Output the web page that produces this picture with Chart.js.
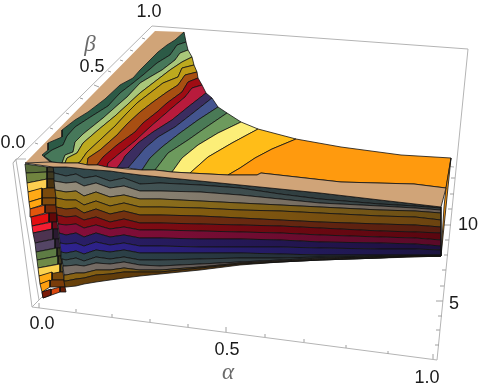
<!DOCTYPE html>
<html>
<head>
<meta charset="utf-8">
<title>surface</title>
<script src="https://cdn.jsdelivr.net/npm/chart.js@4"></script>
<style>
  html, body { margin: 0; padding: 0; background: #fff; }
  canvas { display: block; }
</style>
</head>
<body>
<canvas id="surface" width="482" height="391"></canvas>
<script>

// frame of the 3D box
const boxLines = [
  [[13, 163], [152, 26], [468, 49], [437, 360], [32, 307], [13, 163]],
  [[13, 163], [16, 159], [26, 159]],
  [[16, 160], [39, 300]],
  [[32, 307], [42, 297]],
  [[444, 166], [454, 167]]
];
const alphaTicks = [[76, 312], [112, 317], [150, 322], [188, 327], [265, 337], [304, 342], [346, 348], [388, 354]];
const alphaMajor = [[39, 308], [226, 332], [433, 359]];
const betaTicks = [[35, 143], [50, 128], [66, 113], [80, 98], [108, 71], [120, 60], [130, 50], [142, 38]];
const betaMajor = [[94, 85]];
const zTicks = [[446, 270], [448, 255], [449, 240], [452, 209], [454, 194], [455, 178], [444, 286], [442, 316], [440, 330], [439, 345]];
const zMajor = [[451, 225], [443, 301]];

// top surface: contour lines from the back curve down to the front edge
const contours = [
  [[184,32],[175,40],[167,45],[158,52],[152,58],[140,70],[133,78],[120,85],[105,99],[88,112],[75,120],[62,130],[62,137],[48,143],[48,150],[42,155],[50,162]],
  [[186,42],[177,45],[170,55],[157,63],[143,75],[133,83],[120,93],[108,106],[92,116],[75,127],[67,136],[63,145],[52,150],[44,156],[52,162]],
  [[188,50],[180,53],[175,60],[162,70],[150,77],[140,83],[127,97],[120,103],[103,118],[83,134],[75,142],[73,152],[65,155],[62,163]],
  [[192,57],[182,62],[170,70],[153,83],[140,93],[127,105],[115,116],[98,130],[83,143],[77,153],[67,158],[65,163]],
  [[194,65],[182,68],[178,77],[163,83],[150,93],[137,103],[127,113],[115,126],[100,140],[87,152],[80,162],[78,163]],
  [[197,72],[185,75],[178,85],[167,92],[153,102],[140,112],[127,124],[117,135],[100,150],[88,158],[87,165]],
  [[198,78],[188,82],[182,92],[167,103],[157,112],[143,123],[135,132],[117,145],[103,157],[97,165]],
  [[202,85],[192,88],[185,97],[173,107],[165,114],[150,127],[135,141],[120,153],[108,163],[107,167]],
  [[206,93],[188,107],[172,120],[153,132],[138,143],[125,156],[123,160],[117,168]],
  [[212,98],[193,113],[175,127],[158,137],[145,148],[128,168]],
  [[218,107],[198,120],[180,133],[162,147],[150,158],[142,170]],
  [[227,113],[205,128],[188,140],[168,153],[155,170]],
  [[241,122],[218,133],[198,145],[182,158],[172,172]],
  [[258,129],[232,143],[208,157],[190,173]],
  [[296,139],[272,149],[255,158],[240,168],[228,175]]
];
const topColors = ['#2c5a46', '#47785a', '#a9c77a', '#bdaa1e', '#bf9a16', '#a84f12', '#a00c14', '#b81b3c',
  '#3b2d60', '#44558f', '#4a7a56', '#6d9a5d', '#fcee78', '#ffbd18'];
const backTan = [[25, 163], [155, 31]];
const backCurve = [[296, 139], [341, 147], [401, 155], [451, 158]];
const frontEdge = [[25, 163], [50, 162], [62, 163], [78, 163], [88, 165], [98, 165], [107, 167], [117, 168],
  [128, 169], [142, 170], [155, 170], [172, 172], [190, 173], [228, 175], [241, 175], [257, 175], [261, 173],
  [341, 182], [414, 184], [446, 188]];
const orangeSliver = [[451, 158], [441, 256], [444, 207], [446, 188]];
const tanColor = '#d0a478';
const orangeColor = '#ff9a0e';

// front wall: y of every band boundary at each column
const wallX = [66, 76, 84, 96, 110, 124, 140, 160, 200, 240, 280, 320, 380, 415, 441];
const wallLeftX = [53, 54, 54, 55, 56, 56, 57, 58, 59, 60, 61, 62, 63, 64, 64, 65];
const wallRows = [
  [167,167,168,169,170,171,173,175,177,181,185,189,193,200,204,207],
  [173,176,174,178,176,181,178,184,183,185,188,194,199,204,206,208],
  [181,183,182,186,183,188,186,191,191,192,195,199,203,206,208,210],
  [190,192,191,196,192,197,195,199,199,201,203,205,207,210,211,213],
  [198,200,200,205,201,206,203,207,207,208,210,211,213,216,217,220],
  [207,209,208,213,209,214,211,215,215,216,218,220,222,224,225,227],
  [215,217,216,220,217,222,219,223,223,224,225,226,228,231,232,233],
  [224,225,224,228,225,229,227,230,230,231,232,233,235,237,238,240],
  [233,235,233,237,233,237,235,238,238,239,239,240,242,243,244,246],
  [243,244,243,246,242,245,243,246,246,247,247,247,248,249,249,250],
  [252,253,251,254,250,252,250,253,253,253,253,254,255,255,255,255],
  [259,260,258,261,257,259,257,260,260,259,258,258,257,256,255.5,255.5],
  [266,266,265,266,263,264,262,265,266,264,262,260,258,257,256,256],
  [275,275,273,273,270,270,268,270,270,267,263,261,259,257,256,256],
  [281,281,279,278,275,274,272,272,272,268,264,262,260,258,256,256],
  [287,287,286,284,282,280,278,276,274,270,265,262,260,258,257,256]
];
const wallColorsLeft = ['#33494c', '#45595a', '#938c7a', '#96791f', '#8f6a10', '#7a3610', '#880d14', '#860e3a',
  '#2a1f68', '#2f2390', '#2e464c', '#3f5355', '#7a7068', '#8a6414', '#6a420a'];
const wallColorsRight = ['#30393a', '#363f40', '#675c54', '#6a4c14', '#6c4310', '#561c10', '#5a0610', '#5a0a28',
  '#1e1040', '#1c1540', '#20222e', '#262a32', '#3a3438', '#3a2a18', '#2a1c10'];

// left face
const faceLeftX = [25, 26, 27, 28, 29, 30, 31, 32, 33, 35, 36, 37, 38, 39, 40, 42, 43];
const faceLeftY = [164, 173, 183, 192, 202, 209, 217, 226, 233, 243, 252, 260, 268, 276, 284, 292, 298];
const faceRightY = [167, 172, 179, 188, 198, 205, 213, 222, 229, 239, 248, 256, 264, 272, 280, 287, 292];
const faceRightX = [47, 47, 47, 42, 42, 45, 49, 52, 53, 55, 57, 58, 60, 52, 50, 60];
const stripRightX = [54, 54, 55, 55, 56, 56, 57, 57, 58, 59, 60, 61, 62, 63, 64, 65, 66];
const faceColors = ['#596d3a', '#70843f', '#fdcf50', '#ffa916', '#ffa511', '#e2560d', '#e20e10', '#f51d32',
  '#4d3350', '#544565', '#5e7c44', '#6f8a48', '#fbd24f', '#ffaa14', '#ffa010', '#d8470e'];
const stripColors = ['#3d3a28', '#3f3a20', '#4a3410', '#7a4a0c', '#804a0c', '#722a0a', '#620808', '#6a0a1a',
  '#2a1a30', '#2c2035', '#3a3a20', '#3f3a20', '#5a4a18', '#7a4a0c', '#7a3c0a', '#6a1f08'];
const faceCorner = [[42, 292], [51, 289], [51, 295], [43, 298]];
const faceCornerColor = '#7a1a08';

// tick labels and axis names
const tickLabels = [
  ['1.0', 149, 12], ['0.5', 92, 67], ['0.0', 13, 143],
  ['0.0', 42, 324], ['0.5', 227, 350], ['1.0', 427, 378],
  ['10', 468, 225], ['5', 454, 304]
];
const axisNames = [['β', 90, 45], ['α', 228, 373]];

const pts = a => a.map(p => ({ x: p[0], y: p[1] }));

function poly(points, color) {
  return {
    data: pts(points.concat([points[0]])),
    showLine: true,
    fill: 'shape',
    backgroundColor: color,
    borderColor: '#111',
    borderWidth: 0.8,
    pointRadius: 0
  };
}
function line(points, color, width) {
  return { data: pts(points), showLine: true, fill: false, borderColor: color, borderWidth: width, pointRadius: 0 };
}

const sets = [];

// box behind the surface
boxLines.forEach(l => sets.push(line(l, '#b4b4b4', 1)));

// ticks
alphaTicks.forEach(t => sets.push(line([t, [t[0], t[1] - 3]], '#a0a0a0', 1)));
alphaMajor.forEach(t => sets.push(line([t, [t[0], t[1] - 5]], '#a0a0a0', 1)));
betaTicks.forEach(t => sets.push(line([t, [t[0] + 3, t[1] + 1]], '#a0a0a0', 1)));
betaMajor.forEach(t => sets.push(line([t, [t[0] + 5, t[1] + 2]], '#a0a0a0', 1)));
zTicks.forEach(t => sets.push(line([t, [t[0] - 4, t[1]]], '#a0a0a0', 1)));
zMajor.forEach(t => sets.push(line([t, [t[0] - 7, t[1]]], '#a0a0a0', 1)));

// top surface
const tanBack = poly(backTan.concat(contours[0]), tanColor);
tanBack.borderWidth = 0;
sets.push(tanBack);
topColors.forEach((c, i) => {
  sets.push(poly(contours[i].concat(contours[i + 1].slice().reverse()), c));
});
sets.push(poly(backCurve.concat(frontEdge.slice(-7).reverse(), contours[14].slice(0, -1).reverse()), orangeColor));
sets.push(poly(orangeSliver, orangeColor));

// dark strip behind the left face
stripColors.forEach((c, i) => {
  sets.push(poly([[faceRightX[i], faceRightY[i]], [stripRightX[i], faceRightY[i]],
    [stripRightX[i + 1], faceRightY[i + 1]], [faceRightX[i], faceRightY[i + 1]]], c));
});

// wall, bands get darker towards the right
const wallLine = r => wallRows[r].map((y, c) => [c === 0 ? wallLeftX[r] : wallX[c - 1], y]);
wallColorsLeft.forEach((c, i) => {
  const band = poly(wallLine(i).concat(wallLine(i + 1).reverse()), c);
  band.backgroundColor = ctx => {
    if (!ctx.chart.chartArea) return c; // not laid out yet
    const sx = ctx.chart.scales.x;
    const g = ctx.chart.ctx.createLinearGradient(sx.getPixelForValue(60), 0, sx.getPixelForValue(441), 0);
    g.addColorStop(0, c);
    g.addColorStop(1, wallColorsRight[i]);
    return g;
  };
  sets.push(band);
});

// tan strip along the front
sets.push(poly(frontEdge.concat(wallLine(0).reverse()), tanColor));

// left face
faceColors.forEach((c, i) => {
  sets.push(poly([[faceLeftX[i], faceLeftY[i]], [faceRightX[i], faceRightY[i]],
    [faceRightX[i], faceRightY[i + 1]], [faceLeftX[i + 1], faceLeftY[i + 1]]], c));
});
sets.push(poly(faceCorner, faceCornerColor));

// first pushed is painted first
sets.forEach((s, i) => { s.order = sets.length - i; });

const textPlugin = {
  id: 'labels3d',
  afterDraw(chart) {
    const c = chart.ctx, sx = chart.scales.x, sy = chart.scales.y;
    c.save();
    c.textAlign = 'center';
    c.textBaseline = 'middle';
    c.fillStyle = '#1a1a1a';
    c.font = '18px "Liberation Sans", Arial, sans-serif';
    tickLabels.forEach(t => c.fillText(t[0], sx.getPixelForValue(t[1]), sy.getPixelForValue(t[2])));
    c.fillStyle = '#6b6b6b';
    c.font = 'italic 23px "Liberation Serif", serif';
    axisNames.forEach(t => c.fillText(t[0], sx.getPixelForValue(t[1]), sy.getPixelForValue(t[2])));
    c.restore();
  }
};

new Chart(document.getElementById('surface'), {
  type: 'scatter',
  data: { datasets: sets },
  plugins: [textPlugin],
  options: {
    responsive: false,
    animation: false,
    layout: { padding: 0 },
    scales: {
      x: { type: 'linear', display: false, min: 0, max: 482 },
      y: { type: 'linear', display: false, min: 0, max: 391, reverse: true }
    },
    plugins: { legend: { display: false }, tooltip: { enabled: false } }
  }
});
</script>
</body>
</html>
